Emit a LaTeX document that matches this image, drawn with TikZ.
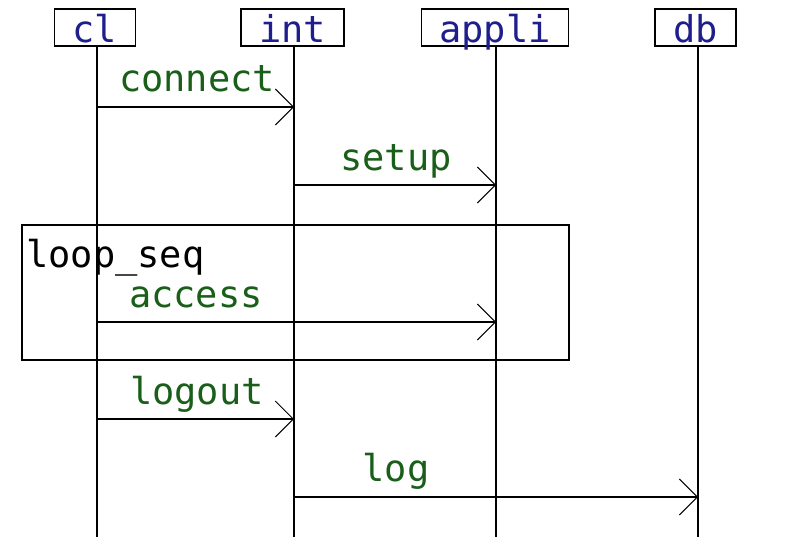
\documentclass[tikz,border=0pt]{standalone}
\usepackage{fontspec}
\newfontfamily\dmono{DejaVu Sans Mono}
\usetikzlibrary{arrows.meta}
\definecolor{hdrblue}{RGB}{30,30,140}
\definecolor{msggreen}{RGB}{25,95,25}
\tikzset{
  actor/.style={draw=black, line width=1.5pt, font=\dmono\fontsize{37}{37}\selectfont, text=hdrblue,
    inner xsep=18pt, inner ysep=0pt, text height=33pt, text depth=4pt, anchor=south},
  lifeline/.style={draw=black, line width=1.5pt},
  msg/.style={draw=black, line width=1.4pt, -{Straight Barb[length=18pt,width=36pt,line width=1pt]}},
  lbl/.style={font=\dmono\fontsize{37}{37}\selectfont, text=msggreen, anchor=base, inner sep=0pt},
  loopbox/.style={draw=black, line width=1.5pt},
  looplbl/.style={font=\dmono\fontsize{37}{37}\selectfont, text=black, anchor=base west, inner sep=0pt}
}
\begin{document}
\begin{tikzpicture}[x=1pt,y=-1pt]
\useasboundingbox (0,0) rectangle (789,543);
% actors
\node[actor] (cl) at (95,47) {cl};
\node[actor] (int) at (292.5,47) {int};
\node[actor] (appli) at (495,47) {appli};
\node[actor] (db) at (695.5,47) {db};
% lifeline ends
\coordinate (clTop) at (97,47);   \coordinate (clEnd) at (97,537);
\coordinate (intTop) at (294,47); \coordinate (intEnd) at (294,537);
\coordinate (appTop) at (496,47); \coordinate (appEnd) at (496,537);
\coordinate (dbTop) at (698,47);  \coordinate (dbEnd) at (698,537);
% loop fragment
\draw[loopbox] (22,225) rectangle (569,360);
\node[looplbl] (looplabel) at (26,267) {loop\_seq};
% lifelines
\draw[lifeline] (clTop) -- (clEnd);
\draw[lifeline] (intTop) -- (intEnd);
\draw[lifeline] (appTop) -- (appEnd);
\draw[lifeline] (dbTop) -- (dbEnd);
% message end points
\coordinate (m1s) at (97,107);  \coordinate (m1t) at (294,107);
\coordinate (m2s) at (294,185); \coordinate (m2t) at (496,185);
\coordinate (m3s) at (97,322);  \coordinate (m3t) at (496,322);
\coordinate (m4s) at (97,419);  \coordinate (m4t) at (294,419);
\coordinate (m5s) at (294,497); \coordinate (m5t) at (698,497);
% messages
\draw[msg] (m1s) -- (m1t);
\draw[msg] (m2s) -- (m2t);
\draw[msg] (m3s) -- (m3t);
\draw[msg] (m4s) -- (m4t);
\draw[msg] (m5s) -- (m5t);
% labels
\node[lbl] (lconnect) at (197,92) {connect};
\node[lbl] (lsetup) at (396,170) {setup};
\node[lbl] (laccess) at (196,307) {access};
\node[lbl] (llogout) at (197,404) {logout};
\node[lbl] (llog) at (396,481) {log};
\end{tikzpicture}
\end{document}
